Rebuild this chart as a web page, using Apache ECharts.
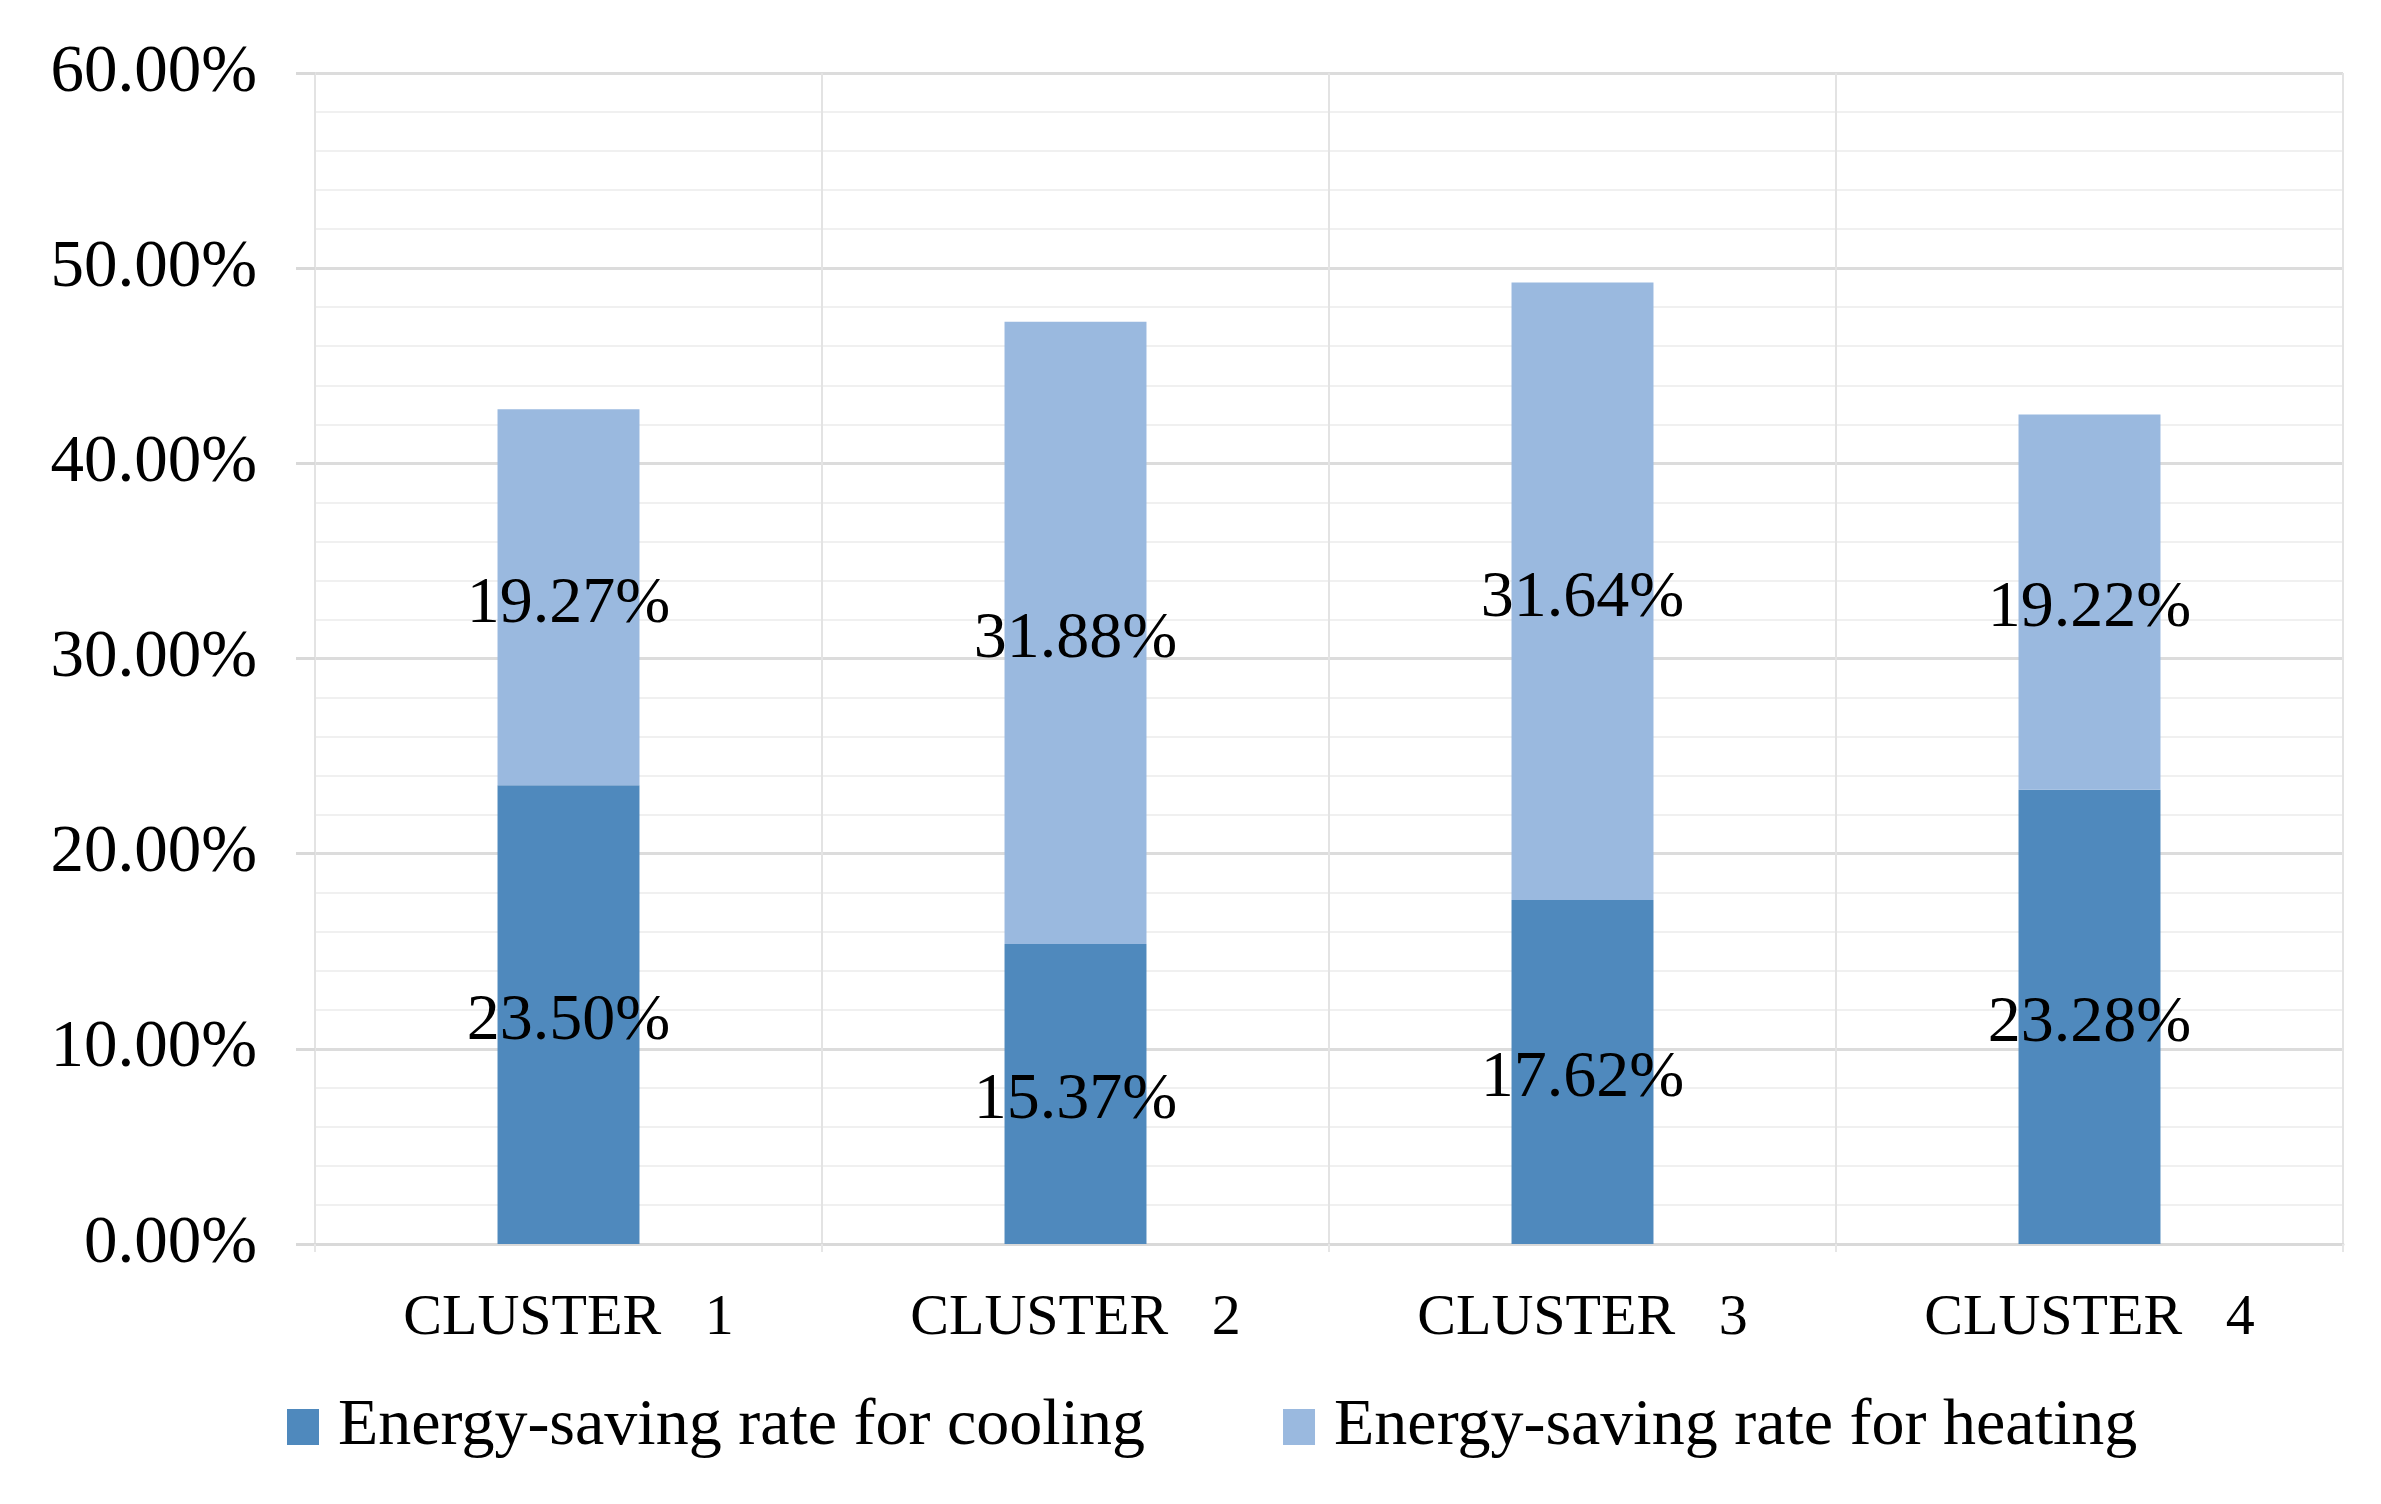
<!DOCTYPE html>
<html>
<head>
<meta charset="utf-8">
<script src="https://cdn.jsdelivr.net/npm/echarts@6/dist/echarts.min.js"></script>
<style>
html,body{margin:0;padding:0;background:#fff;}
#chart{width:2381px;height:1504px;}
</style>
</head>
<body>
<div id="chart"></div>
<script>
const categories = ['CLUSTER 1', 'CLUSTER 2', 'CLUSTER 3', 'CLUSTER 4'];
const coolingValues = [23.50, 15.37, 17.62, 23.28];
const heatingValues = [19.27, 31.88, 31.64, 19.22];
const seriesNames = ['Energy-saving rate for cooling', 'Energy-saving rate for heating'];
const yTicks = { min: 0, max: 60, interval: 10 };

const FONT = 'Liberation Serif';
const chart = echarts.init(document.getElementById('chart'));

const labelStyle = {
  show: true,
  position: 'inside',
  offset: [0, 7],
  formatter: p => p.value.toFixed(2) + '%',
  fontFamily: FONT,
  fontSize: 66,
  color: '#000'
};

chart.setOption({
  backgroundColor: '#ffffff',
  animation: false,
  grid: { left: 315, right: 38, top: 73, bottom: 260, containLabel: false },
  legend: {
    data: seriesNames,
    left: 282,
    top: 1389,
    itemWidth: 32,
    itemHeight: 36,
    itemGap: 138,
    icon: 'rect',
    textStyle: { fontFamily: FONT, fontSize: 66, color: '#000', padding: [0, 0, 0, 14] }
  },
  xAxis: {
    type: 'category',
    data: categories,
    boundaryGap: true,
    axisLine: { show: true, lineStyle: { color: '#d9d9d9', width: 3 } },
    axisTick: { show: true, length: 8, lineStyle: { color: '#e6e6e6', width: 2 } },
    splitLine: { show: true, lineStyle: { color: '#e3e3e3', width: 2 } },
    axisLabel: {
      fontFamily: FONT,
      fontSize: 58,
      color: '#000',
      margin: 46,
      formatter: v => v.replace(' ', '   ')
    }
  },
  yAxis: {
    type: 'value',
    min: yTicks.min,
    max: yTicks.max,
    interval: yTicks.interval,
    axisLine: { show: true, lineStyle: { color: '#e3e3e3', width: 2 } },
    axisTick: { show: true, length: 19, lineStyle: { color: '#d9d9d9', width: 3 } },
    splitLine: { show: true, lineStyle: { color: '#dcdcdc', width: 3 } },
    minorTick: { show: false, splitNumber: 5 },
    minorSplitLine: { show: true, lineStyle: { color: '#f0f0f0', width: 2 } },
    axisLabel: {
      fontFamily: FONT,
      fontSize: 67,
      color: '#000',
      margin: 58,
      formatter: v => v.toFixed(2) + '%'
    }
  },
  series: [
    {
      name: seriesNames[0],
      type: 'bar',
      stack: 'total',
      barWidth: '28%',
      data: coolingValues,
      itemStyle: { color: '#4f89bd' },
      label: labelStyle
    },
    {
      name: seriesNames[1],
      type: 'bar',
      stack: 'total',
      barWidth: '28%',
      data: heatingValues,
      itemStyle: { color: '#9ab9df' },
      label: labelStyle
    }
  ]
});
</script>
</body>
</html>
